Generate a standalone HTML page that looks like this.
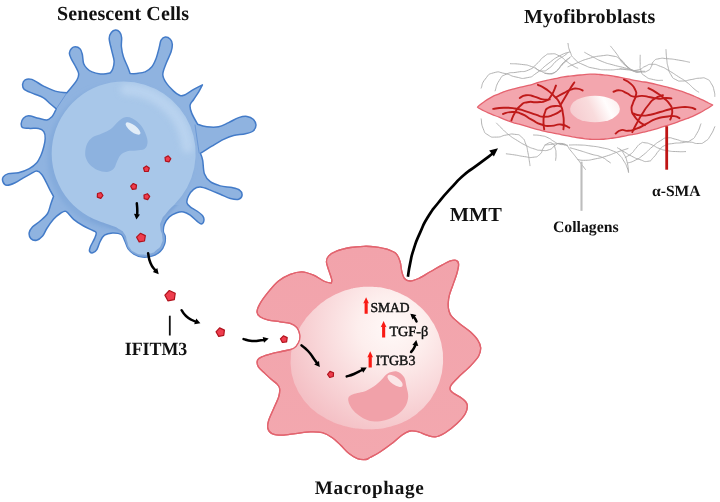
<!DOCTYPE html>
<html lang="en"><head><meta charset="utf-8"><title>Senescent cells, macrophage and myofibroblasts</title>
<style>html,body{margin:0;padding:0;background:#fff;width:720px;height:502px;overflow:hidden}svg{display:block}</style>
</head><body>
<svg width="720" height="502" viewBox="0 0 720 502">
<rect width="720" height="502" fill="#fff"/>
<defs>
<radialGradient id="gb" cx="0.70" cy="0.22" r="0.55"><stop offset="0" stop-color="#bdd6ef"/><stop offset="1" stop-color="#a8c7e8"/></radialGradient>
<radialGradient id="gm" gradientUnits="userSpaceOnUse" cx="392" cy="328" r="112"><stop offset="0" stop-color="#fff9f8"/><stop offset="0.3" stop-color="#fdeeed"/><stop offset="0.62" stop-color="#f9d9db"/><stop offset="1" stop-color="#f4c0c5"/></radialGradient>
<linearGradient id="gn" gradientUnits="userSpaceOnUse" x1="574" y1="120" x2="620" y2="98"><stop offset="0" stop-color="#f6cbcf"/><stop offset="0.4" stop-color="#f9dcdd"/><stop offset="0.7" stop-color="#fffdfd"/><stop offset="1" stop-color="#fcecec"/></linearGradient>
<linearGradient id="gf" x1="0" y1="0" x2="0" y2="1"><stop offset="0" stop-color="#f2a3ab"/><stop offset="1" stop-color="#f3a8af"/></linearGradient>
<filter id="bl2" x="-20%" y="-20%" width="140%" height="140%"><feGaussianBlur stdDeviation="2"/></filter>
<filter id="bl3" x="-30%" y="-30%" width="160%" height="160%"><feGaussianBlur stdDeviation="3"/></filter>
<filter id="bl1" x="-20%" y="-20%" width="140%" height="140%"><feGaussianBlur stdDeviation="1.2"/></filter>
<clipPath id="clow"><rect x="90" y="205" width="100" height="60"/></clipPath>
</defs>
<path d="M100.4,73.9C102.9,74.2 105.4,73.7 107.1,73.5C108.8,73.3 110.4,72.7 110.4,72.7C110.4,72.7 112.3,70.5 112.9,68.5C113.5,66.5 114.3,64.1 114.1,61C113.9,57.9 112.4,53.9 111.6,50.1C110.8,46.3 109.2,41.3 109.2,38.4C109.2,35.5 110.2,33.9 111.3,32.5C112.3,31.1 114.1,30.1 115.5,30C116.9,29.9 118.6,30.8 119.6,32C120.6,33.2 121.3,35 121.6,37.5C121.9,40 121.1,43.6 121.4,46.8C121.7,50 122.4,53.5 123.4,56.8C124.4,60.1 126.5,64 127.6,66.8C128.7,69.6 130.1,73.5 130.1,73.5C130.1,73.5 134.3,73.8 136.8,73.5C139.3,73.2 142.7,73 145.2,71.9C147.7,70.8 150.1,69 151.9,66.8C153.7,64.6 154.8,61.8 156.1,58.5C157.3,55.2 158.6,49.9 159.4,46.8C160.2,43.7 160.1,41.7 161.1,40.1C162.1,38.5 163.8,37.2 165.3,37.1C166.8,37 169.1,38 170.3,39.2C171.5,40.4 172.2,42.1 172.3,44.2C172.4,46.3 172.1,48.6 171.1,51.8C170.1,55 167.5,59.7 166.1,63.5C164.7,67.3 162.8,71.2 162.8,74.4C162.8,77.6 164.3,79.9 166.1,82.7C167.9,85.5 171.4,89 173.6,91.1C175.8,93.2 177.8,94.6 179.5,95.3C181.2,96 181.3,96.3 183.7,95.3C186.1,94.3 190.6,91.1 193.7,89.4C196.8,87.7 202.4,84.9 202.4,84.9C202.4,84.9 200.1,89.5 198.7,91.9C197.2,94.3 195.1,97.3 193.7,99.5C192.3,101.7 190.4,102.8 190.1,105.1C189.8,107.4 190.5,110.2 191.8,113.4C193.1,116.6 197.7,124.3 197.7,124.3C197.7,124.3 203.4,126.4 206.9,126.8C210.4,127.2 215,127.5 218.6,126.8C222.2,126.1 225.2,124.1 228.6,122.6C231.9,121.1 235.6,118.6 238.7,117.6C241.8,116.6 244.6,116.1 247,116.4C249.4,116.7 251.7,117.8 253.2,119.3C254.7,120.8 256,123.1 256,125.1C256,127 255,129.6 253.2,131C251.4,132.4 248.7,133.1 245.4,133.8C242.1,134.6 237.2,134.6 233.6,135.5C230,136.4 227.2,137.6 223.6,139.4C220,141.2 215.8,143.8 211.9,146.1C208,148.4 200.4,153.3 200.4,153.3C200.4,153.3 202,156.9 202.7,160.3C203.4,163.7 203.1,170.1 204.4,173.7C205.7,177.3 207.7,179.7 210.3,181.7C213,183.7 216.7,184.9 220.3,185.9C223.9,186.9 228.9,186.9 232.1,187.6C235.3,188.3 237.9,188.8 239.6,190.1C241.3,191.3 242.2,193.6 242.1,195.1C241.9,196.6 240.6,198.7 238.7,199.3C236.8,199.9 233.5,199.3 230.4,198.5C227.3,197.7 223.7,195.7 220.3,194.3C217,192.9 213.6,191.3 210.3,190.1C207,188.9 203.1,187.2 200.3,187.1C197.5,187 195.6,187.8 193.6,189.3C191.6,190.8 189.6,193.8 188.5,196C187.4,198.2 186.6,200.9 186.9,202.7C187.2,204.5 188.5,205.4 190.2,206.8C191.9,208.2 194.8,209.5 196.9,211C199,212.5 201.7,214.3 202.8,216C204,217.7 204.1,219.8 203.8,221.1C203.5,222.4 202.2,223.9 201.1,223.9C199.9,223.9 198.7,222.6 196.9,221.1C195.1,219.6 192.4,216.7 190.2,215.2C188,213.7 185.7,212.3 183.5,211.9C181.3,211.5 179.2,211.9 176.8,212.7C174.4,213.5 171.4,214.9 169.3,216.9C167.2,218.9 165.3,221.9 164.3,224.4C163.3,226.9 163.2,229.9 163.4,231.9C163.6,233.9 165,234.4 165.2,236.4C165.4,238.4 165.4,241.4 164.6,243.9C163.8,246.4 162.2,249.4 160.2,251.4C158.2,253.4 155.6,254.9 152.7,255.8C149.8,256.8 145.8,257.4 142.7,257.1C139.6,256.8 136.3,255.4 133.9,254C131.5,252.6 129.7,251 128.2,248.9C126.7,246.8 126.2,243.8 125.1,241.4C123.9,239 123.4,235.9 121.3,234.5C119.2,233.1 115.3,232.8 112.5,232.9C109.7,233 106.5,233.8 104.5,235.2C102.5,236.6 101.5,238.7 100.3,241.1C99,243.5 98.2,247.4 97,249.4C95.8,251.4 94,252.5 92.8,252.8C91.5,253.1 89.9,252.1 89.5,251.1C89.1,250.1 89.5,249 90.3,246.9C91.1,244.8 93.5,241 94.5,238.6C95.5,236.2 96.6,234.1 96.2,232.7C95.8,231.3 94.1,231.3 92,230.2C89.9,229.1 86.7,227.8 83.6,226C80.5,224.2 76.5,221.7 73.6,219.3C70.7,216.9 68.2,212.4 66,211.4C63.8,210.4 62.3,212.2 60.2,213.5C58.1,214.8 55.7,216.8 53.5,219.3C51.3,221.8 48.6,225.7 46.8,228.5C45,231.3 44.3,234.1 42.6,236C40.9,237.9 38.7,239.8 36.7,240.2C34.8,240.6 32.1,239.8 30.9,238.6C29.6,237.3 28.9,234.7 29.2,232.7C29.5,230.7 30.8,228.8 32.6,226.8C34.4,224.9 37.6,223.2 40.1,221C42.6,218.8 45.8,216.4 47.6,213.5C49.4,210.6 50,206.2 51,203.4C52,200.6 53.5,196.4 53.5,196.4C53.5,196.4 51.5,192.7 50.2,190.3C49,187.9 47.4,184.6 46,181.9C44.6,179.2 43.3,176.2 41.8,174.4C40.3,172.6 38.6,171.2 36.8,171.1C35,171 33.2,172.5 31,173.6C28.8,174.7 26,176.3 23.4,177.8C20.8,179.3 17.9,181.6 15.1,182.8C12.3,184.1 8.7,185.5 6.7,185.3C4.7,185.2 3.6,183.3 3,181.9C2.4,180.5 2.4,178.3 3.3,176.9C4.2,175.5 5.9,174.3 8.4,173.6C10.9,172.9 14.9,173.5 18.4,172.7C21.9,171.9 26.2,170.3 29.3,168.6C32.4,166.9 34.8,164.9 36.8,162.7C38.8,160.5 39.8,157.8 41,155.2C42.2,152.5 43.1,149.6 43.8,146.8C44.5,144 45.2,140.9 45.2,138.4C45.2,135.9 44.9,133.4 43.8,131.7C42.7,130 40.8,128.9 38.5,128.4C36.2,127.9 32.8,128.5 30.1,128.4C27.5,128.3 24.1,128.4 22.6,127.6C21.1,126.8 21.1,125 21.2,123.5C21.3,122 22.2,119.6 23.4,118.3C24.6,117 26,115.8 28.5,115.8C31,115.8 35.4,117.6 38.5,118.3C41.6,119 44.7,120.3 46.9,120C49.1,119.7 50.6,118 51.9,116.7C53.2,115.5 53.8,113.8 54.5,112.5C55.2,111.2 56.3,108.8 56.3,108.8C56.3,108.8 52.3,105.5 50.2,103.7C48.1,101.9 46.3,99.5 43.5,97.8C40.7,96.1 36.6,95 33.4,93.6C30.2,92.2 26,90.9 24.2,89.4C22.4,87.9 22.5,86 22.6,84.4C22.8,82.8 23.6,80.6 25.1,79.8C26.6,79 28.7,78.4 31.8,79.4C34.9,80.5 39.6,84.1 43.5,86.1C47.4,88 51.3,90 55.2,91.1C59.1,92.2 66.9,92.8 66.9,92.8C66.9,92.8 75,83.4 76.9,80.2C78.9,77 78.9,75.9 78.6,73.5C78.3,71.1 76.5,68.5 75.3,66C74,63.5 72.1,60.7 71.1,58.5C70.1,56.3 69.3,54.7 69.4,53C69.5,51.3 70.5,49.5 71.5,48.5C72.5,47.5 73.9,46.8 75.3,46.8C76.7,46.8 78.8,47.5 80,48.8C81.2,50 81.7,51.8 82.3,54.3C82.9,56.8 82.8,61.1 83.6,63.5C84.4,65.9 85.6,67.1 87,68.5C88.4,69.9 89.8,71 92,71.9C94.2,72.8 97.9,73.6 100.4,73.9Z" fill="#8fb3e0" stroke="#437bc8" stroke-width="1.5" stroke-linejoin="round"/>
<path d="M56.3,108.75 L66.9,92.8 M195,124.6 C196.5,135 197.8,144 199.2,153.2" fill="none" stroke="#4a80cb" stroke-width="1" opacity="0.55"/>
<clipPath id="co"><path d="M100.4,73.9C102.9,74.2 105.4,73.7 107.1,73.5C108.8,73.3 110.4,72.7 110.4,72.7C110.4,72.7 112.3,70.5 112.9,68.5C113.5,66.5 114.3,64.1 114.1,61C113.9,57.9 112.4,53.9 111.6,50.1C110.8,46.3 109.2,41.3 109.2,38.4C109.2,35.5 110.2,33.9 111.3,32.5C112.3,31.1 114.1,30.1 115.5,30C116.9,29.9 118.6,30.8 119.6,32C120.6,33.2 121.3,35 121.6,37.5C121.9,40 121.1,43.6 121.4,46.8C121.7,50 122.4,53.5 123.4,56.8C124.4,60.1 126.5,64 127.6,66.8C128.7,69.6 130.1,73.5 130.1,73.5C130.1,73.5 134.3,73.8 136.8,73.5C139.3,73.2 142.7,73 145.2,71.9C147.7,70.8 150.1,69 151.9,66.8C153.7,64.6 154.8,61.8 156.1,58.5C157.3,55.2 158.6,49.9 159.4,46.8C160.2,43.7 160.1,41.7 161.1,40.1C162.1,38.5 163.8,37.2 165.3,37.1C166.8,37 169.1,38 170.3,39.2C171.5,40.4 172.2,42.1 172.3,44.2C172.4,46.3 172.1,48.6 171.1,51.8C170.1,55 167.5,59.7 166.1,63.5C164.7,67.3 162.8,71.2 162.8,74.4C162.8,77.6 164.3,79.9 166.1,82.7C167.9,85.5 171.4,89 173.6,91.1C175.8,93.2 177.8,94.6 179.5,95.3C181.2,96 181.3,96.3 183.7,95.3C186.1,94.3 190.6,91.1 193.7,89.4C196.8,87.7 202.4,84.9 202.4,84.9C202.4,84.9 200.1,89.5 198.7,91.9C197.2,94.3 195.1,97.3 193.7,99.5C192.3,101.7 190.4,102.8 190.1,105.1C189.8,107.4 190.5,110.2 191.8,113.4C193.1,116.6 197.7,124.3 197.7,124.3C197.7,124.3 203.4,126.4 206.9,126.8C210.4,127.2 215,127.5 218.6,126.8C222.2,126.1 225.2,124.1 228.6,122.6C231.9,121.1 235.6,118.6 238.7,117.6C241.8,116.6 244.6,116.1 247,116.4C249.4,116.7 251.7,117.8 253.2,119.3C254.7,120.8 256,123.1 256,125.1C256,127 255,129.6 253.2,131C251.4,132.4 248.7,133.1 245.4,133.8C242.1,134.6 237.2,134.6 233.6,135.5C230,136.4 227.2,137.6 223.6,139.4C220,141.2 215.8,143.8 211.9,146.1C208,148.4 200.4,153.3 200.4,153.3C200.4,153.3 202,156.9 202.7,160.3C203.4,163.7 203.1,170.1 204.4,173.7C205.7,177.3 207.7,179.7 210.3,181.7C213,183.7 216.7,184.9 220.3,185.9C223.9,186.9 228.9,186.9 232.1,187.6C235.3,188.3 237.9,188.8 239.6,190.1C241.3,191.3 242.2,193.6 242.1,195.1C241.9,196.6 240.6,198.7 238.7,199.3C236.8,199.9 233.5,199.3 230.4,198.5C227.3,197.7 223.7,195.7 220.3,194.3C217,192.9 213.6,191.3 210.3,190.1C207,188.9 203.1,187.2 200.3,187.1C197.5,187 195.6,187.8 193.6,189.3C191.6,190.8 189.6,193.8 188.5,196C187.4,198.2 186.6,200.9 186.9,202.7C187.2,204.5 188.5,205.4 190.2,206.8C191.9,208.2 194.8,209.5 196.9,211C199,212.5 201.7,214.3 202.8,216C204,217.7 204.1,219.8 203.8,221.1C203.5,222.4 202.2,223.9 201.1,223.9C199.9,223.9 198.7,222.6 196.9,221.1C195.1,219.6 192.4,216.7 190.2,215.2C188,213.7 185.7,212.3 183.5,211.9C181.3,211.5 179.2,211.9 176.8,212.7C174.4,213.5 171.4,214.9 169.3,216.9C167.2,218.9 165.3,221.9 164.3,224.4C163.3,226.9 163.2,229.9 163.4,231.9C163.6,233.9 165,234.4 165.2,236.4C165.4,238.4 165.4,241.4 164.6,243.9C163.8,246.4 162.2,249.4 160.2,251.4C158.2,253.4 155.6,254.9 152.7,255.8C149.8,256.8 145.8,257.4 142.7,257.1C139.6,256.8 136.3,255.4 133.9,254C131.5,252.6 129.7,251 128.2,248.9C126.7,246.8 126.2,243.8 125.1,241.4C123.9,239 123.4,235.9 121.3,234.5C119.2,233.1 115.3,232.8 112.5,232.9C109.7,233 106.5,233.8 104.5,235.2C102.5,236.6 101.5,238.7 100.3,241.1C99,243.5 98.2,247.4 97,249.4C95.8,251.4 94,252.5 92.8,252.8C91.5,253.1 89.9,252.1 89.5,251.1C89.1,250.1 89.5,249 90.3,246.9C91.1,244.8 93.5,241 94.5,238.6C95.5,236.2 96.6,234.1 96.2,232.7C95.8,231.3 94.1,231.3 92,230.2C89.9,229.1 86.7,227.8 83.6,226C80.5,224.2 76.5,221.7 73.6,219.3C70.7,216.9 68.2,212.4 66,211.4C63.8,210.4 62.3,212.2 60.2,213.5C58.1,214.8 55.7,216.8 53.5,219.3C51.3,221.8 48.6,225.7 46.8,228.5C45,231.3 44.3,234.1 42.6,236C40.9,237.9 38.7,239.8 36.7,240.2C34.8,240.6 32.1,239.8 30.9,238.6C29.6,237.3 28.9,234.7 29.2,232.7C29.5,230.7 30.8,228.8 32.6,226.8C34.4,224.9 37.6,223.2 40.1,221C42.6,218.8 45.8,216.4 47.6,213.5C49.4,210.6 50,206.2 51,203.4C52,200.6 53.5,196.4 53.5,196.4C53.5,196.4 51.5,192.7 50.2,190.3C49,187.9 47.4,184.6 46,181.9C44.6,179.2 43.3,176.2 41.8,174.4C40.3,172.6 38.6,171.2 36.8,171.1C35,171 33.2,172.5 31,173.6C28.8,174.7 26,176.3 23.4,177.8C20.8,179.3 17.9,181.6 15.1,182.8C12.3,184.1 8.7,185.5 6.7,185.3C4.7,185.2 3.6,183.3 3,181.9C2.4,180.5 2.4,178.3 3.3,176.9C4.2,175.5 5.9,174.3 8.4,173.6C10.9,172.9 14.9,173.5 18.4,172.7C21.9,171.9 26.2,170.3 29.3,168.6C32.4,166.9 34.8,164.9 36.8,162.7C38.8,160.5 39.8,157.8 41,155.2C42.2,152.5 43.1,149.6 43.8,146.8C44.5,144 45.2,140.9 45.2,138.4C45.2,135.9 44.9,133.4 43.8,131.7C42.7,130 40.8,128.9 38.5,128.4C36.2,127.9 32.8,128.5 30.1,128.4C27.5,128.3 24.1,128.4 22.6,127.6C21.1,126.8 21.1,125 21.2,123.5C21.3,122 22.2,119.6 23.4,118.3C24.6,117 26,115.8 28.5,115.8C31,115.8 35.4,117.6 38.5,118.3C41.6,119 44.7,120.3 46.9,120C49.1,119.7 50.6,118 51.9,116.7C53.2,115.5 53.8,113.8 54.5,112.5C55.2,111.2 56.3,108.8 56.3,108.8C56.3,108.8 52.3,105.5 50.2,103.7C48.1,101.9 46.3,99.5 43.5,97.8C40.7,96.1 36.6,95 33.4,93.6C30.2,92.2 26,90.9 24.2,89.4C22.4,87.9 22.5,86 22.6,84.4C22.8,82.8 23.6,80.6 25.1,79.8C26.6,79 28.7,78.4 31.8,79.4C34.9,80.5 39.6,84.1 43.5,86.1C47.4,88 51.3,90 55.2,91.1C59.1,92.2 66.9,92.8 66.9,92.8C66.9,92.8 75,83.4 76.9,80.2C78.9,77 78.9,75.9 78.6,73.5C78.3,71.1 76.5,68.5 75.3,66C74,63.5 72.1,60.7 71.1,58.5C70.1,56.3 69.3,54.7 69.4,53C69.5,51.3 70.5,49.5 71.5,48.5C72.5,47.5 73.9,46.8 75.3,46.8C76.7,46.8 78.8,47.5 80,48.8C81.2,50 81.7,51.8 82.3,54.3C82.9,56.8 82.8,61.1 83.6,63.5C84.4,65.9 85.6,67.1 87,68.5C88.4,69.9 89.8,71 92,71.9C94.2,72.8 97.9,73.6 100.4,73.9Z"/></clipPath>
<g clip-path="url(#co)"><circle cx="120.3" cy="157" r="73" fill="#84abdc" filter="url(#bl2)"/><g clip-path="url(#clow)"><path d="M123.8,81.5 A72,72 0 0 1 174.5,204.5 C171.8,207.3 170.8,207.7 166.5,213C162.2,218.3 163.5,215.5 161.5,220.5C159.5,225.5 160.1,222.7 160.4,228C160.7,233.3 162,231.1 162.3,236.4C162.6,241.7 163.3,239.4 161.4,243.9C159.5,248.4 160.2,246.8 156.5,250C152.8,253.2 154.8,252.1 150.2,253.6C145.6,255.1 147.7,255 142.7,254.6C137.7,254.2 139.4,254.8 135.1,252.5C130.8,250.2 132.3,251.4 129.7,247.7C127.1,244 128.9,246 127.2,241.4C125.5,236.8 127.3,238.1 124.5,233.9C121.7,229.7 123.6,231.8 118.8,228.9C114,226 116.3,227.6 110,225.1C103.7,222.6 103.3,222.7 100,221.5 A72,72 0 0 1 123.8,81.5Z" fill="none" stroke="#7fa6d9" stroke-width="5" filter="url(#bl1)"/></g></g>
<path d="M123.8,81.5 A72,72 0 0 1 174.5,204.5 C171.8,207.3 170.8,207.7 166.5,213C162.2,218.3 163.5,215.5 161.5,220.5C159.5,225.5 160.1,222.7 160.4,228C160.7,233.3 162,231.1 162.3,236.4C162.6,241.7 163.3,239.4 161.4,243.9C159.5,248.4 160.2,246.8 156.5,250C152.8,253.2 154.8,252.1 150.2,253.6C145.6,255.1 147.7,255 142.7,254.6C137.7,254.2 139.4,254.8 135.1,252.5C130.8,250.2 132.3,251.4 129.7,247.7C127.1,244 128.9,246 127.2,241.4C125.5,236.8 127.3,238.1 124.5,233.9C121.7,229.7 123.6,231.8 118.8,228.9C114,226 116.3,227.6 110,225.1C103.7,222.6 103.3,222.7 100,221.5 A72,72 0 0 1 123.8,81.5Z" fill="#a8c7e9"/>
<clipPath id="cb"><path d="M123.8,81.5 A72,72 0 0 1 174.5,204.5 C171.8,207.3 170.8,207.7 166.5,213C162.2,218.3 163.5,215.5 161.5,220.5C159.5,225.5 160.1,222.7 160.4,228C160.7,233.3 162,231.1 162.3,236.4C162.6,241.7 163.3,239.4 161.4,243.9C159.5,248.4 160.2,246.8 156.5,250C152.8,253.2 154.8,252.1 150.2,253.6C145.6,255.1 147.7,255 142.7,254.6C137.7,254.2 139.4,254.8 135.1,252.5C130.8,250.2 132.3,251.4 129.7,247.7C127.1,244 128.9,246 127.2,241.4C125.5,236.8 127.3,238.1 124.5,233.9C121.7,229.7 123.6,231.8 118.8,228.9C114,226 116.3,227.6 110,225.1C103.7,222.6 103.3,222.7 100,221.5 A72,72 0 0 1 123.8,81.5Z"/></clipPath>
<g clip-path="url(#cb)"><path d="M126.1,89.5 A64,64 0 0 1 187.5,147" fill="none" stroke="#bfd7f1" stroke-width="12" opacity="0.75" stroke-linecap="round" filter="url(#bl3)"/></g>
<path d="M85.2,152.8C85.3,150.3 85.7,146.5 87,143.9C88.3,141.3 90.4,138.8 92.9,137.1C95.4,135.3 98.9,134.8 101.9,133.4C104.9,132 108.2,130.9 110.9,128.9C113.6,126.9 115.9,123.3 118.3,121.4C120.7,119.5 122.7,117.8 125.1,117.3C127.5,116.8 129.9,117.2 132.5,118.5C135.1,119.8 138.6,122.5 140.8,125.2C143.1,127.9 144.9,131.9 146,134.9C147.1,137.9 147.8,140.7 147.5,143.1C147.2,145.5 146.4,147.8 144.5,149.1C142.6,150.3 139.2,150.2 136.3,150.6C133.4,151 129.9,150.6 127.3,151.3C124.7,152.1 122.3,153.3 120.6,155.1C118.9,156.8 118,159.6 116.9,161.8C115.8,164 115.5,166.8 113.9,168.5C112.3,170.2 109.8,171.8 107.1,172C104.3,172.2 100.3,171.2 97.4,170C94.5,168.8 91.8,166.7 89.9,164.8C88,162.9 87,160.8 86.2,158.8C85.4,156.8 85.1,155.3 85.2,152.8Z" fill="#8db2df"/>
<ellipse cx="133" cy="128.5" rx="9" ry="3.4" transform="rotate(38 133 128.5)" fill="#e2edf8"/>
<path d="M299.9,335.1C299.6,332.6 298.5,329.6 296.9,327.6C295.3,325.7 293,324.4 290.2,323.4C287.4,322.4 283.7,322.4 280.1,321.8C276.5,321.2 271.8,321 268.4,320.1C265,319.2 261.9,318.1 260,316.7C258.1,315.3 257,314.2 257,312C257,309.8 258.1,307 260,303.6C261.9,300.2 265.3,295.7 268.4,291.9C271.5,288.1 274.9,283.9 278.5,281C282.1,278.1 286.3,275.8 290.2,274.3C294.1,272.8 298,271.7 301.9,271.8C305.8,271.9 310,273.6 313.6,275.1C317.2,276.6 320.7,279.6 323.6,281C326.5,282.4 331.2,283.2 331.2,283.2C331.2,283.2 332.1,281.5 331.7,279.3C331.3,277.1 329.6,273 328.7,270.1C327.8,267.2 326.4,264.1 326.4,261.7C326.4,259.3 326.9,257.7 328.7,255.9C330.5,254.1 333.4,252.3 337,250.9C340.6,249.5 345.9,248.3 350.4,247.5C354.9,246.7 359.7,246.4 363.8,246.3C367.9,246.2 371.1,246.3 375,246.8C378.9,247.3 383.5,248 387,249.2C390.5,250.4 394,251.7 396.2,253.8C398.4,255.9 399.3,259.1 400.2,262C401.1,264.9 401,268.2 401.7,271C402.4,273.8 403.1,276.8 404.5,278.5C405.9,280.2 407.8,281 410.1,281C412.4,281 415.1,280 418.5,278.5C421.9,277 426.3,274 430.2,271.8C434.1,269.6 438.5,266.9 441.9,265.1C445.2,263.3 447.9,261.7 450.3,260.9C452.7,260.1 454.7,259.8 456.1,260.4C457.5,260.9 458.5,262 458.6,264.2C458.7,266.4 457.9,270 456.9,273.5C455.9,277 454.1,281.6 452.8,285.2C451.6,288.8 450.2,292.1 449.4,295.2C448.6,298.3 448.3,301 448.2,303.6C448.1,306.2 448.4,308.8 449,311C449.6,313.2 450,314.5 451.9,316.7C453.8,318.9 457.2,321.7 460.3,324.2C463.4,326.7 467.4,329.1 470.3,331.8C473.2,334.5 476.1,337.5 477.8,340.1C479.5,342.8 480.6,345.1 480.7,347.7C480.8,350.3 480.4,352.9 478.7,356C477,359.1 473.6,362.6 470.3,366.1C467,369.6 461.8,373.8 458.6,377C455.4,380.2 452.4,383.1 451,385.3C449.6,387.5 449.9,388.6 450.3,390C450.8,391.4 451.7,392 453.7,393.4C455.7,394.8 459.9,396.6 462.1,398.4C464.3,400.2 466.6,401.8 467.1,404.3C467.7,406.8 467.1,410.3 465.4,413.5C463.7,416.7 460.4,420.3 457,423.5C453.6,426.7 448.9,430.5 445.3,432.7C441.7,434.9 438.4,436.5 435.3,436.9C432.2,437.3 429.7,436 426.9,435.2C424.1,434.4 421.3,432.6 418.5,431.9C415.7,431.2 413,430.4 410.2,431C407.4,431.6 404.9,433.1 401.8,435.2C398.7,437.3 395.4,440.8 391.8,443.6C388.2,446.4 383.6,449.7 380,452C376.4,454.3 372.4,456.2 370,457.5C367.6,458.8 367.9,459.3 365.8,459.5C363.7,459.7 360.2,459.7 357.4,458.7C354.6,457.7 351.8,455.8 349,453.6C346.2,451.4 343.5,448 340.7,445.3C337.9,442.6 335.4,439.8 332.3,437.7C329.2,435.6 325.9,433.7 322.3,432.7C318.7,431.7 315,431.8 310.5,431.9C306,432 300.2,433.1 295.5,433.6C290.8,434.2 286,435.2 282.1,435.2C278.2,435.2 274.4,434.7 272,433.6C269.6,432.5 268.4,430.7 267.9,428.5C267.3,426.3 267.7,423.5 268.7,420.2C269.7,416.9 272,412.4 273.7,408.5C275.4,404.6 277.7,400 278.7,396.7C279.7,393.4 279.9,390.6 279.6,388.5C279.3,386.4 278.4,385.5 277,384C275.6,382.5 273.5,381.2 271.5,379.5C269.5,377.8 267.3,375.7 265.1,373.6C262.9,371.5 259.7,369.1 258.4,366.9C257.1,364.7 256.9,362 257.5,360.3C258.1,358.6 259.3,358 261.7,356.9C264.1,355.8 268.2,354.6 271.8,353.6C275.4,352.6 279.9,351.9 283.5,351C287.1,350.1 291,349.9 293.5,348.5C296,347.1 297.4,344.9 298.5,342.7C299.6,340.5 300.2,337.6 299.9,335.1Z" fill="url(#gf)" stroke="#e2646f" stroke-width="1.3" stroke-linejoin="round"/>
<clipPath id="cm"><path d="M299.9,335.1C299.6,332.6 298.5,329.6 296.9,327.6C295.3,325.7 293,324.4 290.2,323.4C287.4,322.4 283.7,322.4 280.1,321.8C276.5,321.2 271.8,321 268.4,320.1C265,319.2 261.9,318.1 260,316.7C258.1,315.3 257,314.2 257,312C257,309.8 258.1,307 260,303.6C261.9,300.2 265.3,295.7 268.4,291.9C271.5,288.1 274.9,283.9 278.5,281C282.1,278.1 286.3,275.8 290.2,274.3C294.1,272.8 298,271.7 301.9,271.8C305.8,271.9 310,273.6 313.6,275.1C317.2,276.6 320.7,279.6 323.6,281C326.5,282.4 331.2,283.2 331.2,283.2C331.2,283.2 332.1,281.5 331.7,279.3C331.3,277.1 329.6,273 328.7,270.1C327.8,267.2 326.4,264.1 326.4,261.7C326.4,259.3 326.9,257.7 328.7,255.9C330.5,254.1 333.4,252.3 337,250.9C340.6,249.5 345.9,248.3 350.4,247.5C354.9,246.7 359.7,246.4 363.8,246.3C367.9,246.2 371.1,246.3 375,246.8C378.9,247.3 383.5,248 387,249.2C390.5,250.4 394,251.7 396.2,253.8C398.4,255.9 399.3,259.1 400.2,262C401.1,264.9 401,268.2 401.7,271C402.4,273.8 403.1,276.8 404.5,278.5C405.9,280.2 407.8,281 410.1,281C412.4,281 415.1,280 418.5,278.5C421.9,277 426.3,274 430.2,271.8C434.1,269.6 438.5,266.9 441.9,265.1C445.2,263.3 447.9,261.7 450.3,260.9C452.7,260.1 454.7,259.8 456.1,260.4C457.5,260.9 458.5,262 458.6,264.2C458.7,266.4 457.9,270 456.9,273.5C455.9,277 454.1,281.6 452.8,285.2C451.6,288.8 450.2,292.1 449.4,295.2C448.6,298.3 448.3,301 448.2,303.6C448.1,306.2 448.4,308.8 449,311C449.6,313.2 450,314.5 451.9,316.7C453.8,318.9 457.2,321.7 460.3,324.2C463.4,326.7 467.4,329.1 470.3,331.8C473.2,334.5 476.1,337.5 477.8,340.1C479.5,342.8 480.6,345.1 480.7,347.7C480.8,350.3 480.4,352.9 478.7,356C477,359.1 473.6,362.6 470.3,366.1C467,369.6 461.8,373.8 458.6,377C455.4,380.2 452.4,383.1 451,385.3C449.6,387.5 449.9,388.6 450.3,390C450.8,391.4 451.7,392 453.7,393.4C455.7,394.8 459.9,396.6 462.1,398.4C464.3,400.2 466.6,401.8 467.1,404.3C467.7,406.8 467.1,410.3 465.4,413.5C463.7,416.7 460.4,420.3 457,423.5C453.6,426.7 448.9,430.5 445.3,432.7C441.7,434.9 438.4,436.5 435.3,436.9C432.2,437.3 429.7,436 426.9,435.2C424.1,434.4 421.3,432.6 418.5,431.9C415.7,431.2 413,430.4 410.2,431C407.4,431.6 404.9,433.1 401.8,435.2C398.7,437.3 395.4,440.8 391.8,443.6C388.2,446.4 383.6,449.7 380,452C376.4,454.3 372.4,456.2 370,457.5C367.6,458.8 367.9,459.3 365.8,459.5C363.7,459.7 360.2,459.7 357.4,458.7C354.6,457.7 351.8,455.8 349,453.6C346.2,451.4 343.5,448 340.7,445.3C337.9,442.6 335.4,439.8 332.3,437.7C329.2,435.6 325.9,433.7 322.3,432.7C318.7,431.7 315,431.8 310.5,431.9C306,432 300.2,433.1 295.5,433.6C290.8,434.2 286,435.2 282.1,435.2C278.2,435.2 274.4,434.7 272,433.6C269.6,432.5 268.4,430.7 267.9,428.5C267.3,426.3 267.7,423.5 268.7,420.2C269.7,416.9 272,412.4 273.7,408.5C275.4,404.6 277.7,400 278.7,396.7C279.7,393.4 279.9,390.6 279.6,388.5C279.3,386.4 278.4,385.5 277,384C275.6,382.5 273.5,381.2 271.5,379.5C269.5,377.8 267.3,375.7 265.1,373.6C262.9,371.5 259.7,369.1 258.4,366.9C257.1,364.7 256.9,362 257.5,360.3C258.1,358.6 259.3,358 261.7,356.9C264.1,355.8 268.2,354.6 271.8,353.6C275.4,352.6 279.9,351.9 283.5,351C287.1,350.1 291,349.9 293.5,348.5C296,347.1 297.4,344.9 298.5,342.7C299.6,340.5 300.2,337.6 299.9,335.1Z"/></clipPath>
<g clip-path="url(#cm)"><path d="M443,358C443.1,364.6 443.3,361.4 442.5,367.9C441.7,374.5 442.3,371.3 440.6,377.7C438.8,384.1 439.9,381 437.3,387.1C434.6,393.2 436.1,390.3 432.6,395.9C429.2,401.5 431,398.9 426.8,403.9C422.6,408.9 424.8,406.6 419.9,410.9C415.1,415.3 417.6,413.3 412.2,416.9C406.8,420.5 409.5,418.9 403.8,421.7C398,424.5 400.9,423.3 394.9,425.3C388.8,427.3 391.8,426.4 385.7,427.7C379.5,428.9 382.6,428.5 376.3,429C370.1,429.5 373.2,429.4 367,429.3C360.8,429.2 363.9,429.4 357.7,428.6C351.5,427.9 354.6,428.4 348.5,427C342.4,425.6 345.4,426.5 339.5,424.5C333.5,422.4 336.4,423.6 330.7,420.9C324.9,418.2 327.7,419.8 322.2,416.3C316.8,412.9 319.3,414.8 314.3,410.7C309.3,406.5 311.6,408.8 307.2,403.9C302.8,399 304.8,401.6 301.1,396C297.5,390.5 299,393.4 296.3,387.3C293.5,381.2 294.6,384.3 292.9,377.9C291.1,371.4 291.7,374.6 291,368C290.4,361.4 290.5,364.6 290.8,358C291.2,351.4 290.8,354.6 292.1,348.1C293.5,341.7 292.6,344.8 294.8,338.7C297,332.5 295.8,335.5 298.8,329.7C301.8,324 300.1,326.7 303.8,321.5C307.4,316.3 305.5,318.7 309.7,314C313.9,309.3 311.7,311.5 316.4,307.4C321,303.2 318.6,305.1 323.7,301.5C328.7,297.9 326.1,299.6 331.5,296.6C337,293.6 334.2,294.9 339.9,292.6C345.6,290.2 342.7,291.2 348.7,289.6C354.6,287.9 351.6,288.6 357.7,287.6C363.8,286.7 360.8,287 367,286.8C373.2,286.6 370.1,286.5 376.3,287.1C382.5,287.7 379.5,287.2 385.6,288.6C391.7,289.9 388.7,289.1 394.7,291.2C400.6,293.4 397.7,292.1 403.4,295C409,297.9 406.3,296.3 411.6,299.9C416.8,303.6 414.3,301.6 419.1,305.9C423.9,310.2 421.7,307.9 425.8,312.8C430,317.8 428.1,315.2 431.6,320.7C435.2,326.1 433.6,323.3 436.4,329.3C439.1,335.2 438,332.2 439.9,338.5C441.8,344.7 441.1,341.6 442.1,348.1C443.2,354.6 442.9,351.4 443,358Z" fill="url(#gm)"/></g>
<path d="M299.9,335.1C299.6,332.6 298.5,329.6 296.9,327.6C295.3,325.7 293,324.4 290.2,323.4C287.4,322.4 283.7,322.4 280.1,321.8C276.5,321.2 271.8,321 268.4,320.1C265,319.2 261.9,318.1 260,316.7C258.1,315.3 257,314.2 257,312C257,309.8 258.1,307 260,303.6C261.9,300.2 265.3,295.7 268.4,291.9C271.5,288.1 274.9,283.9 278.5,281C282.1,278.1 286.3,275.8 290.2,274.3C294.1,272.8 298,271.7 301.9,271.8C305.8,271.9 310,273.6 313.6,275.1C317.2,276.6 320.7,279.6 323.6,281C326.5,282.4 331.2,283.2 331.2,283.2C331.2,283.2 332.1,281.5 331.7,279.3C331.3,277.1 329.6,273 328.7,270.1C327.8,267.2 326.4,264.1 326.4,261.7C326.4,259.3 326.9,257.7 328.7,255.9C330.5,254.1 333.4,252.3 337,250.9C340.6,249.5 345.9,248.3 350.4,247.5C354.9,246.7 359.7,246.4 363.8,246.3C367.9,246.2 371.1,246.3 375,246.8C378.9,247.3 383.5,248 387,249.2C390.5,250.4 394,251.7 396.2,253.8C398.4,255.9 399.3,259.1 400.2,262C401.1,264.9 401,268.2 401.7,271C402.4,273.8 403.1,276.8 404.5,278.5C405.9,280.2 407.8,281 410.1,281C412.4,281 415.1,280 418.5,278.5C421.9,277 426.3,274 430.2,271.8C434.1,269.6 438.5,266.9 441.9,265.1C445.2,263.3 447.9,261.7 450.3,260.9C452.7,260.1 454.7,259.8 456.1,260.4C457.5,260.9 458.5,262 458.6,264.2C458.7,266.4 457.9,270 456.9,273.5C455.9,277 454.1,281.6 452.8,285.2C451.6,288.8 450.2,292.1 449.4,295.2C448.6,298.3 448.3,301 448.2,303.6C448.1,306.2 448.4,308.8 449,311C449.6,313.2 450,314.5 451.9,316.7C453.8,318.9 457.2,321.7 460.3,324.2C463.4,326.7 467.4,329.1 470.3,331.8C473.2,334.5 476.1,337.5 477.8,340.1C479.5,342.8 480.6,345.1 480.7,347.7C480.8,350.3 480.4,352.9 478.7,356C477,359.1 473.6,362.6 470.3,366.1C467,369.6 461.8,373.8 458.6,377C455.4,380.2 452.4,383.1 451,385.3C449.6,387.5 449.9,388.6 450.3,390C450.8,391.4 451.7,392 453.7,393.4C455.7,394.8 459.9,396.6 462.1,398.4C464.3,400.2 466.6,401.8 467.1,404.3C467.7,406.8 467.1,410.3 465.4,413.5C463.7,416.7 460.4,420.3 457,423.5C453.6,426.7 448.9,430.5 445.3,432.7C441.7,434.9 438.4,436.5 435.3,436.9C432.2,437.3 429.7,436 426.9,435.2C424.1,434.4 421.3,432.6 418.5,431.9C415.7,431.2 413,430.4 410.2,431C407.4,431.6 404.9,433.1 401.8,435.2C398.7,437.3 395.4,440.8 391.8,443.6C388.2,446.4 383.6,449.7 380,452C376.4,454.3 372.4,456.2 370,457.5C367.6,458.8 367.9,459.3 365.8,459.5C363.7,459.7 360.2,459.7 357.4,458.7C354.6,457.7 351.8,455.8 349,453.6C346.2,451.4 343.5,448 340.7,445.3C337.9,442.6 335.4,439.8 332.3,437.7C329.2,435.6 325.9,433.7 322.3,432.7C318.7,431.7 315,431.8 310.5,431.9C306,432 300.2,433.1 295.5,433.6C290.8,434.2 286,435.2 282.1,435.2C278.2,435.2 274.4,434.7 272,433.6C269.6,432.5 268.4,430.7 267.9,428.5C267.3,426.3 267.7,423.5 268.7,420.2C269.7,416.9 272,412.4 273.7,408.5C275.4,404.6 277.7,400 278.7,396.7C279.7,393.4 279.9,390.6 279.6,388.5C279.3,386.4 278.4,385.5 277,384C275.6,382.5 273.5,381.2 271.5,379.5C269.5,377.8 267.3,375.7 265.1,373.6C262.9,371.5 259.7,369.1 258.4,366.9C257.1,364.7 256.9,362 257.5,360.3C258.1,358.6 259.3,358 261.7,356.9C264.1,355.8 268.2,354.6 271.8,353.6C275.4,352.6 279.9,351.9 283.5,351C287.1,350.1 291,349.9 293.5,348.5C296,347.1 297.4,344.9 298.5,342.7C299.6,340.5 300.2,337.6 299.9,335.1Z" fill="none" stroke="#e2646f" stroke-width="1.3" stroke-linejoin="round"/>
<path d="M348.2,398.4C348.6,396.3 350.3,395.4 353.2,394.2C356.1,392.9 362,392.4 365.8,390.9C369.6,389.4 373.2,386.9 375.8,385C378.4,383.1 379.7,381.4 381.7,379.5C383.7,377.6 385.2,374.8 387.7,373.5C390.2,372.2 394.1,370.9 396.8,371.5C399.5,372.1 402.4,374.5 404,377C405.6,379.5 405.8,383.4 406.5,386.7C407.2,390 408.4,393.3 408.2,396.7C408,400.1 407,403.7 405.1,406.8C403.2,409.9 400.1,412.9 396.8,415.1C393.5,417.3 389.6,419.2 385.1,420.2C380.6,421.2 374.6,422 370,421C365.4,420 360.6,416.7 357.4,414.3C354.2,411.9 352.2,409.5 350.7,406.8C349.2,404.1 347.8,400.5 348.2,398.4Z" fill="#f1a1a9"/>
<ellipse cx="395.1" cy="380.9" rx="9" ry="3.8" transform="rotate(35 395.1 380.9)" fill="#fbe6e7"/>
<g fill="none" stroke="#a9a9a9" stroke-width="0.9" stroke-linecap="round">
<path d="M481.2,88.1C482.6,85.1 481.1,84.1 485.3,79C489.5,73.9 487.2,74.6 493.7,72.8C500.2,71 497.5,72.1 504.9,73.5C512.3,74.9 508.6,75.6 516,77C523.4,78.4 520.2,79.1 527.2,77.7C534.2,76.3 529.9,77.5 536.9,72.8C543.9,68.1 540.6,69.3 548.1,63.7C555.6,58.1 552.1,59.9 559.3,56C566.5,52.1 566.2,53.3 569.7,51.9"/>
<path d="M495.1,90.9C496.5,87.4 495.6,86 499.3,80.4C503,74.8 500.3,77 506.3,74.2C512.3,71.4 510,73.5 517.4,72.1C524.8,70.7 522.1,72.8 528.6,70C535.1,67.2 531.8,68.1 536.9,63.7C542,59.3 539.2,60 543.9,56.7C548.6,53.4 545.8,54.2 550.9,53.9C556,53.6 554.3,53.6 559.3,55.9C564.3,58.2 561.4,57.5 565.9,60.8C570.4,64.1 568.9,63.2 572.9,65.7C576.9,68.2 576.2,67.4 577.8,68.2"/>
<path d="M510.4,63.7C514.1,63.9 514.6,63.5 521.6,64.4C528.6,65.3 525.4,64.4 531.4,66.5C537.4,68.6 534.1,68.4 539.7,70.7C545.3,73 543,73 548.1,73.5C553.2,74 550.5,74.9 555.1,72.1C559.7,69.3 557,70 562,65.1C567,60.2 567.4,59.9 570.1,57.3"/>
<path d="M535.6,67.9C537.7,68.9 537.4,71 542,71C546.6,71 544.7,71.3 549.5,67.9C554.3,64.5 551.4,65.1 556.5,60.9C561.6,56.7 561,58.1 564.8,55.3C568.6,52.5 566.9,53.4 568,52.4"/>
<path d="M568,43.4C568.7,46.2 567.8,46.4 570.1,51.7C572.4,57 570.4,55 575,59.4C579.6,63.8 577.3,62 584,65C590.7,68 587.3,66.9 595.2,68.5C603.1,70.1 599.4,69.7 607.8,69.9C616.2,70.1 613.3,69.4 620.3,69.2C627.3,69 625.9,69.2 628.7,69.2"/>
<path d="M568,66.8C571,65.5 570.4,65.6 577.1,62.9C583.8,60.2 580.3,61 588.2,58.7C596.1,56.4 592.9,56.8 600.8,55.9C608.7,55 605.5,54.7 612,55.9C618.5,57.1 615.2,55.9 620.3,59.4C625.4,62.9 622.6,62.4 627.3,66.4C632,70.4 629.7,69.8 634.3,71.5C638.9,73.2 638.9,71.5 641.2,71.5"/>
<path d="M584.7,52.4C587.3,53.8 586.6,53.6 592.4,56.6C598.2,59.6 595.2,58.7 602.2,61.5C609.2,64.3 605.9,62.9 613.3,65C620.7,67.1 617.5,65.9 624.5,67.8C631.5,69.7 627.6,69.4 634.3,70.6C641,71.8 641.2,71.1 644.7,71.3"/>
<path d="M610.6,46.2C612.4,48.5 612.4,48.2 616.1,53.1C619.8,58 617.5,55.9 621.7,60.8C625.9,65.7 623.6,64.2 628.7,67.8C633.8,71.4 634.3,70.3 637.1,71.5"/>
<path d="M545,73.4C547.3,73.4 547.8,74.6 552,73.4C556.2,72.2 553.9,73.4 557.6,69.9C561.3,66.4 558.9,67.1 563.1,62.9C567.3,58.7 567.8,59.2 570.1,57.3"/>
<path d="M620,60.1C621.9,62 621.4,62.2 625.6,65.7C629.8,69.2 627.5,68.5 632.6,70.6C637.7,72.7 635.8,72 640.9,72C646,72 644.4,72.5 647.9,70.6C651.4,68.7 649.5,69.4 651.4,66.4C653.3,63.4 650.9,64.1 653.5,61.5C656.1,58.9 654.5,59.6 659.1,58.7C663.7,57.8 660.9,58.2 667.4,58.7C673.9,59.2 671.2,58.9 678.6,60.1C686,61.3 685.9,61.5 689.5,62.2"/>
<path d="M640.2,55.2C640.2,57.8 640,57.8 640.2,62.9C640.4,68 639.3,66.2 640.9,70.6C642.5,75 640.9,73.1 645.1,76.1C649.3,79.1 647.7,78.2 653.5,79.6C659.3,81 659.5,80.1 662.5,80.3"/>
<path d="M620,68.5C622.8,69 622.4,69.4 628.4,69.9C634.4,70.4 632.5,71.1 638.1,69.9C643.7,68.7 640.4,68.3 645.1,66.4C649.8,64.5 647,64.3 652.1,64.3C657.2,64.3 654.9,64.3 660.5,66.4C666.1,68.5 662.8,67.1 668.8,70.6C674.8,74.1 672.5,72.9 678.6,76.8C684.7,80.7 681.9,78.4 687,82.4C692.1,86.4 690,85.4 693.9,88.7C697.8,92 697.2,91 698.8,92.2"/>
<path d="M666,49.6C666.2,52.6 666,52.9 666.7,58.7C667.4,64.5 666.7,61.8 668.1,67.1C669.5,72.4 668.3,70.5 670.9,74.7C673.5,78.9 671.8,77.5 675.8,79.6C679.8,81.7 677.7,81 682.8,81C687.9,81 685.5,80.5 691.1,79.6C696.7,78.7 694.4,78.4 699.5,78.2C704.6,78 702.5,77 706.5,78.9C710.5,80.8 708.9,79.8 711.4,83.8C713.9,87.8 713,86.6 714.1,90.8C715.2,95 714.6,94.5 714.8,96.4"/>
<path d="M481.2,118.9C481.9,122.2 480.9,123.3 483.2,128.7C485.5,134.1 483.7,132.2 488.1,135C492.5,137.8 490.4,137.1 496.5,137.1C502.6,137.1 500.3,135.9 506.3,135C512.3,134.1 509.5,133.6 514.6,134.3C519.7,135 517.9,133.8 521.6,137.1C525.3,140.4 523.7,139 525.8,144.1C527.9,149.2 526.7,146.8 527.9,152.4C529.1,158 528.6,156.4 529.3,160.8C530,165.2 529.8,164.1 530,165.7"/>
<path d="M496.5,123.1C498.4,125 497.9,124.7 502.1,128.7C506.3,132.7 504,131 509.1,135C514.2,139 511.8,137.1 517.4,140.6C523,144.1 520.2,142.6 525.8,145.4C531.4,148.2 529.1,147.3 534.2,148.9C539.3,150.5 536,150.1 541.1,150.3C546.2,150.5 544.8,151.2 549.5,149.6C554.2,148 551.4,147.5 555.1,145.4C558.8,143.3 556.5,143.4 560.7,143.4C564.9,143.4 565.3,144.7 567.6,145.4"/>
<path d="M506.3,153.8C509.1,154.2 508.6,154 514.6,154.9C520.6,155.8 518.3,155.8 524.4,156.6C530.5,157.4 527.7,158 532.8,157.3C537.9,156.6 536.2,157.5 539.7,154.5C543.2,151.5 540.9,151.7 543.2,148.2C545.5,144.7 543.7,145.7 546.7,144.1C549.7,142.5 549.5,142 552.3,143.4C555.1,144.8 553.9,144.7 555.1,148.2C556.3,151.7 555.8,150 556,154C556.2,158 555.7,158.2 555.6,160.3"/>
<path d="M533.5,135C536,135.2 536.2,134.8 541.1,135.7C546,136.6 543.9,135.9 548.1,137.8C552.3,139.7 550,139.2 553.7,141.3C557.4,143.4 555.1,142.7 559.3,144.1C563.5,145.5 562.6,143.5 566.2,145.4C569.8,147.3 566.9,146.1 570.1,149.9C573.3,153.7 572.2,152.4 575.7,156.8C579.2,161.2 577.4,158.9 580.6,163.1C583.8,167.3 583.8,167.3 585.4,169.4"/>
<path d="M545,145C547.3,144.8 547.3,144.8 552,144.3C556.7,143.8 554.8,143.4 559,143.6C563.2,143.8 562.7,144.5 564.5,145"/>
<path d="M569.4,145C572.9,145 572.7,144.7 579.9,145C587.1,145.3 583.6,145.1 591,146C598.4,146.9 595.2,146.3 602.2,147.8C609.2,149.3 606.4,148.3 612,150.6C617.6,152.9 615,151.2 618.9,154.7C622.8,158.2 621,156.6 623.8,161C626.6,165.4 625.8,164.3 627.3,168C628.8,171.7 628,170.8 628.4,172.2"/>
<path d="M570.1,147.8C573.4,148.7 572.9,148.5 579.9,150.6C586.9,152.7 584,152 591,154.1C598,156.2 595.2,154.5 600.8,156.8C606.4,159.1 604.5,158.9 607.8,161C611.1,163.1 609.7,162.4 610.6,163.1"/>
<path d="M577.8,159.6C580.3,159.8 579.6,160.5 585.4,160.3C591.2,160.1 588.2,160.3 595.2,158.9C602.2,157.5 599,158.4 606.4,156.1C613.8,153.8 610.3,154.5 617.5,152C624.7,149.5 624.5,149.7 628,148.5"/>
<path d="M617.5,147.8C619.8,149.2 619.8,149.2 624.5,152C629.2,154.8 626.4,153.6 631.5,156.1C636.6,158.6 634.3,157.9 639.8,159.6C645.3,161.3 643.3,162 647.9,161.3C652.5,160.6 649.8,161 653.5,157.4C657.2,153.8 655.4,154.3 659.1,150.4C662.8,146.5 660,147.9 664.6,145.6C669.2,143.3 667.4,144.4 673,143.5C678.6,142.6 675.8,143.3 681.4,142.8C687,142.3 684.1,141.9 689.7,142.1C695.3,142.3 693,143.7 698.1,143.5C703.2,143.3 700.9,144.2 705.1,141.4C709.3,138.6 707.5,140 710.7,135.1C713.9,130.2 713.4,129.5 714.8,126.7"/>
<path d="M625.2,157.5C627.3,156.1 628,156.4 631.5,153.4C635,150.4 632.7,151.8 635.7,148.5C638.7,145.2 637.4,145.5 640.5,143.6C643.6,141.7 641.2,142.4 645.1,142.8C649,143.2 647.4,143 652.1,144.9C656.8,146.8 654,146.5 659.1,148.4C664.2,150.3 661.4,149.6 667.4,150.7C673.4,151.8 671.1,151.3 677.2,151.6C683.3,151.9 682.8,151.6 685.6,151.6"/>
<path d="M627.7,163C630.2,162.1 630,163 635.3,160.2C640.6,157.4 638.1,159 643.7,154.6C649.3,150.2 646.5,151.6 652.1,147C657.7,142.4 655.4,143.7 660.5,140.7C665.6,137.7 662.3,138.4 667.4,137.9C672.5,137.4 670.2,138.1 675.8,139.3C681.4,140.5 679.1,141.2 684.2,141.4C689.3,141.6 686.9,142.6 691.1,140C695.3,137.4 693.4,139.1 696.7,133.7C700,128.3 699.5,127.2 700.9,123.9"/>
<path d="M620,149C621.4,150.9 621.9,150.4 624.2,154.6C626.5,158.8 625.5,155.8 627,161.6C628.5,167.4 628.1,168.6 628.6,172.1"/>
</g>
<path d="M477.5,107.2C477.5,107.2 478,106.2 482.4,103C486.8,99.8 485.1,100.7 490.7,97.6C496.3,94.5 493.5,96.1 499.1,93.8C504.7,91.5 501.9,92.5 507.5,90.7C513.1,88.9 510.2,89.8 515.8,88.3C521.4,86.8 518.6,87.6 524.2,86.3C529.8,85 527.9,85.6 532.6,84.3C537.3,83 533.7,83.8 538.4,82.5C543.1,81.2 541.1,81.7 546.7,80.4C552.3,79.1 549.5,79.8 555.1,78.6C560.7,77.4 557.9,77.8 563.5,76.9C569.1,76 566.2,76.5 571.8,75.9C577.4,75.3 574.1,75.6 580.2,75C586.3,74.4 583.9,74.4 590,74.2C596.1,74 592.8,74.1 598.4,74.4C604,74.7 601.1,74.5 606.7,75.2C612.3,75.9 609.5,75.5 615.1,76.5C620.7,77.5 617.9,77 623.5,78.1C629.1,79.2 626.2,78.7 631.8,79.8C637.4,80.9 634.2,80.2 640.2,81.3C646.2,82.4 643.2,81.6 649.8,83C656.4,84.4 653.8,83.9 660,85.4C666.2,86.9 662.8,86 668.4,87.5C674,89 671.1,88.2 676.7,89.9C682.3,91.6 679.5,90.6 685.1,92.6C690.7,94.6 687.9,93.5 693.5,95.9C699.1,98.3 696.8,97.3 701.8,99.7C706.8,102.1 704.9,101.3 708.5,103C712.1,104.7 712.6,104.9 712.6,104.9C712.6,104.9 711,106.3 706,109.3C701,112.3 703,111.2 697.7,113.9C692.4,116.6 694.2,115.6 690,117.4C685.8,119.2 689.6,117.6 685.2,119.2C680.8,120.8 682.4,120.3 676.8,122.3C671.2,124.3 674.1,123.3 668.5,125.1C662.9,126.9 665.7,125.9 660.1,127.6C654.5,129.3 657.3,128.6 651.7,130.1C646.1,131.6 649,130.9 643.4,132.2C637.8,133.5 639.4,133.2 635,134.1C630.6,135 634.6,134.1 630.2,134.9C625.8,135.7 627.4,135.5 621.8,136.5C616.2,137.5 619.1,137.2 613.5,138C607.9,138.8 610.7,138.5 605.1,139C599.5,139.5 602.3,139.4 596.7,139.4C591.1,139.4 594,139.6 588.4,139.1C582.8,138.6 586.1,138.9 580,138C573.9,137.1 576.3,137.4 570.2,136.3C564.1,135.2 567.4,135.9 561.8,134.8C556.2,133.7 559.1,134.2 553.5,133.1C547.9,132 550.7,132.7 545.1,131.4C539.5,130.1 542.3,130.8 536.7,129.3C531.1,127.8 534,128.4 528.4,126.8C522.8,125.2 524.2,125.6 520,124.4C515.8,123.2 520,124.6 515.8,123.3C511.6,122 513.1,122.6 507.5,120.6C501.9,118.6 504.7,119.4 499.1,117.2C493.5,115 496.3,116.3 490.7,113.9C485.1,111.5 486.8,112.3 482.4,110.1C478,107.9 477.5,107.2 477.5,107.2Z" fill="#f3a6ae" stroke="#e5636f" stroke-width="1.3" stroke-linejoin="round"/>
<ellipse cx="595" cy="109" rx="24.9" ry="13.3" fill="url(#gn)"/>
<g fill="none" stroke="#bf1a1a" stroke-width="1.9" stroke-linecap="round">
<path d="M493.2,108.9C496.7,108.5 496.5,107.9 503.7,107.8C510.9,107.7 507.5,107.3 514.9,108.5C522.3,109.7 519,109.2 526,111.3C533,113.4 529.7,112.9 535.8,114.7C541.9,116.5 538.2,116.8 544.2,116.8C550.2,116.8 548.3,116.8 553.9,114.7C559.5,112.6 558.6,112 560.9,110.6"/>
<path d="M503,114C506,113.3 505.8,112 512.1,112C518.4,112 515.3,111.5 521.8,114C528.3,116.5 525.1,116.1 531.6,119.6C538.1,123.1 534.9,122.4 541.4,124.5C547.9,126.6 544.6,125.9 551.1,125.9C557.6,125.9 554.8,123.9 560.9,124.5C567,125.1 566.5,126.6 569.3,127.7"/>
<path d="M511.4,120.3C512.6,117.8 511.9,117.6 514.9,112.7C517.9,107.8 516.2,109.2 520.4,105.7C524.6,102.2 521.8,103.4 527.4,102.2C533,101 531.1,102.7 537.2,102.2C543.3,101.7 541,102.9 545.6,100.8C550.2,98.7 547.6,101 551.1,95.9C554.6,90.8 554.4,89 556,85.5"/>
<path d="M519.7,98C521.8,97.1 521.1,95.7 526,95.2C530.9,94.7 528.8,95.2 534.4,96.6C540,98 537.7,98.5 542.8,99.4C547.9,100.3 547.4,99.4 549.7,99.4"/>
<path d="M537.9,84.8C540.5,86.2 540.3,85.2 545.6,88.9C550.9,92.6 549,90.8 553.9,95.9C558.8,101 557.2,98.3 560.2,104.3C563.2,110.3 561.8,107.5 563,114C564.2,120.5 563.6,118.7 563.7,123.8C563.8,128.9 563.5,127.5 563.4,129.4"/>
<path d="M544.2,129.4C544,126.6 543.3,126.6 543.5,121C543.7,115.4 543.3,117.1 544.9,112.7C546.5,108.3 544.8,110 548.3,107.8C551.8,105.6 551.1,106.5 555.3,106C559.5,105.5 559,106.3 560.9,106.4"/>
<path d="M556,97.3C558.6,95.9 558.8,95.7 563.7,93.1C568.6,90.5 566.3,91.1 570.7,89.6C575.1,88.1 573,88.3 577,88.6C581,88.9 580.8,89.9 582.7,90.5"/>
<path d="M560.9,104.3C562.3,102 562.1,102.4 565.1,97.3C568.1,92.2 566.9,93.9 570,88.9C573.1,83.9 572.9,84.6 574.3,82.4"/>
<path d="M613.5,91.7C615.6,91.3 615.4,89.9 619.8,90.4C624.2,90.9 622.1,91 626.7,93.1C631.3,95.2 628.6,95.7 633.7,96.6C638.8,97.5 636.5,95.7 642.1,95.9C647.7,96.1 644.8,96.4 650.4,97.3C656,98.2 653.7,98.5 658.8,98.7C663.9,98.9 661.6,98.1 665.8,98C670,97.9 669.5,98.3 671.4,98.4"/>
<path d="M623.9,79.5C626,80.8 626.5,80 630.2,83.4C633.9,86.8 633.2,85.4 635.1,89.6C637,93.8 636.5,91.5 635.8,95.9C635.1,100.3 634.4,98.2 633,102.9C631.6,107.6 631.1,105.5 631.6,109.9C632.1,114.3 631.8,112.2 634.4,116.1C637,120 635.8,118.7 639.3,121.7C642.8,124.7 643,124 644.9,125.2"/>
<path d="M615.6,133.6C617.5,132.4 617,131 621.2,130.1C625.4,129.2 623,131.3 628.1,130.8C633.2,130.3 630.4,131 636.5,128.7C642.6,126.4 639.8,127.1 646.3,123.8C652.8,120.5 649.5,121.2 656,118.9C662.5,116.6 659.7,117.7 665.8,116.8C671.9,115.9 669.6,115.6 674.2,116.1C678.8,116.6 677.7,117.5 679.5,118.2"/>
<path d="M648.4,88.2C650.9,89.6 650.9,89.1 656,92.4C661.1,95.7 659.3,94.3 663.7,98C668.1,101.7 666.5,99.6 669.3,103.6C672.1,107.6 671.4,105.7 672.1,109.9C672.8,114.1 672,112.9 671.4,116.1C670.8,119.3 670.6,118.4 670.2,119.6"/>
<path d="M632.3,132.2C633.7,129.4 633.2,129.8 636.5,123.8C639.8,117.8 638.1,120.4 642.1,114.1C646.1,107.8 644.2,110.1 648.4,105C652.6,99.9 649.7,102 654.6,98.7C659.5,95.4 660.2,96.4 663,95.2"/>
<path d="M633,113.4C635.6,114.1 634.9,115 640.7,115.4C646.5,115.8 643.9,115.8 650.4,114.7C656.9,113.6 653.7,113.8 660.2,112C666.7,110.2 663.5,110.7 670,109.2C676.5,107.7 673.2,108 679.7,107.4C686.2,106.8 684.3,106.8 689.5,107.4C694.7,108 693.4,108.6 695.4,109.2"/>
</g>
<line x1="581.5" y1="161.7" x2="581.5" y2="210.8" stroke="#bdbdbd" stroke-width="2.1"/>
<line x1="666.7" y1="126.2" x2="666.7" y2="169.7" stroke="#bf1515" stroke-width="2.8"/>
<line x1="169.8" y1="315.7" x2="169.8" y2="335.5" stroke="#111" stroke-width="1.8"/>
<g fill="#ef3d4e" stroke="#b0121c" stroke-width="1.2" stroke-linejoin="round">
<polygon points="168.2,155.9 170.8,158.6 169.1,161.8 165.5,161.2 165,157.5"/>
<polygon points="146.4,165.9 149.3,168 148.2,171.5 144.6,171.5 143.5,168"/>
<polygon points="133.3,183.5 136.5,185.1 136,188.8 132.4,189.4 130.7,186.2"/>
<polygon points="101,192.5 103,195.5 100.8,198.4 97.3,197.1 97.5,193.5"/>
<polygon points="147.4,193.7 149.7,196.5 147.7,199.6 144.2,198.7 144,195"/>
<polygon points="140.4,233.3 145.3,235.6 144.5,241 139.2,241.9 136.6,237.2"/>
<polygon points="169.3,290.5 175.2,293.3 174.3,299.7 167.9,300.8 164.9,295.1"/>
<polygon points="219.6,327.9 224.4,330.1 223.8,335.3 218.7,336.4 216,331.8"/>
<polygon points="283.4,335.8 287.2,337.6 286.6,341.8 282.4,342.5 280.4,338.8"/>
<polygon points="330,371.4 333.5,372.8 333.3,376.5 329.7,377.5 327.6,374.3"/>
</g>
<path d="M136.8,203.3C137,205.9 137.3,206.8 137.3,211C137.3,215.2 137,214.2 136.8,215.8" fill="none" stroke="#000" stroke-width="2.5" stroke-linecap="round"/><polygon points="136.4,219.6 134,213.8 140,214.4" fill="#000"/>
<path d="M148.1,253.3C148.9,256.5 148.2,257.4 150.5,263C152.8,268.6 153.1,267.2 155,270C156.9,272.8 155.8,270.9 156.2,271.3" fill="none" stroke="#000" stroke-width="2.5" stroke-linecap="round"/><polygon points="158.7,274.2 152.8,272.1 157.3,268.1" fill="#000"/>
<path d="M181.6,310.2C183.1,312.1 182.2,312.6 186,316C189.8,319.4 189.4,318.5 193,320.5C196.6,322.5 195.5,321.5 196.8,321.9" fill="none" stroke="#000" stroke-width="2.5" stroke-linecap="round"/><polygon points="200.4,323.3 194.2,324.2 196.3,318.5" fill="#000"/>
<path d="M243.6,339.1C246.4,339.7 246.2,340.6 252,341C257.8,341.4 256.7,340.8 261,340.3C265.3,339.8 263.6,339.7 264.9,339.4" fill="none" stroke="#000" stroke-width="2.5" stroke-linecap="round"/><polygon points="268.7,338.6 264,342.7 262.7,336.9" fill="#000"/>
<path d="M301.5,345.4C303.7,347.3 303.8,346.5 308,351C312.2,355.5 310.8,354.7 314,359C317.2,363.3 316.4,362.3 317.6,364" fill="none" stroke="#000" stroke-width="2.5" stroke-linecap="round"/><polygon points="319.8,367.1 314.2,364.4 319,360.9" fill="#000"/>
<path d="M346.7,376.4C349.1,375.6 349.2,376 354,374C358.8,372 357.9,372.1 361,370.5C364.1,368.9 362.6,369.7 363.4,369.3" fill="none" stroke="#000" stroke-width="2.5" stroke-linecap="round"/><polygon points="366.8,367.6 363.2,372.7 360.5,367.4" fill="#000"/>
<path d="M411.1,352C412,350.8 412.3,350.8 413.8,348.3C415.3,345.8 414.9,346 415.5,344.5C416.1,343 415.6,344 415.6,343.8" fill="none" stroke="#000" stroke-width="2.5" stroke-linecap="round"/><polygon points="416.3,340 418.3,345.9 412.4,344.9" fill="#000"/>
<path d="M416.5,321.5C415.9,320.4 416.1,320.1 414.8,318.2C413.5,316.3 413.2,316.5 412.7,315.8C412.2,315.1 413,316.1 413.2,316.2" fill="none" stroke="#000" stroke-width="2.5" stroke-linecap="round"/><polygon points="410.3,313.7 416.4,315.1 412.5,319.6" fill="#000"/>
<path d="M407.9,276.8C408.7,272.2 408.2,272.4 410.2,263.1C412.2,253.8 410.5,259 413.8,248.8C417.1,238.6 415.3,243.4 420.1,232.6C424.9,221.8 422.1,226.5 428.2,216.5C434.3,206.5 430.8,212.1 438.5,202.5C446.2,192.9 442.9,196.8 451.4,187.7C459.9,178.6 455.5,182.4 463.9,175.1C472.3,167.8 468.1,172 476.5,165.7C484.9,159.4 483.6,160.4 489,156.3C494.4,152.2 491.4,154.4 492.6,153.4" fill="none" stroke="#000" stroke-width="2.7" stroke-linecap="butt"/>
<polygon points="498,148.3 489.2,150.6 493.9,156.4" fill="#000"/>
<path d="M366.1,297.2 L369,303.5 L367.7,303 L367.7,313.7 L364.6,313.7 L364.6,303 L363.2,303.5Z" fill="#f91a14"/>
<path d="M383.6,321 L386.5,327.3 L385.2,326.8 L385.2,337.4 L382.1,337.4 L382.1,326.8 L380.7,327.3Z" fill="#f91a14"/>
<path d="M370.2,351.2 L373.1,357.5 L371.8,357 L371.8,367.6 L368.6,367.6 L368.6,357 L367.3,357.5Z" fill="#f91a14"/>
<g font-family="'Liberation Serif', 'Times New Roman', serif" fill="#111" opacity="0.999" style="text-rendering:geometricPrecision">
<text x="57" y="19.5" font-size="20" font-weight="700" text-anchor="start" textLength="132" lengthAdjust="spacing">Senescent Cells</text>
<text x="524" y="22.9" font-size="20" font-weight="700" text-anchor="start" textLength="131.2" lengthAdjust="spacing">Myofibroblasts</text>
<text x="449.7" y="221" font-size="20" font-weight="700" text-anchor="start" textLength="52.2" lengthAdjust="spacingAndGlyphs">MMT</text>
<text x="124.7" y="354.8" font-size="18.6" font-weight="700" text-anchor="start" textLength="62.6" lengthAdjust="spacingAndGlyphs">IFITM3</text>
<text x="314.7" y="494.4" font-size="19.2" font-weight="700" text-anchor="start" textLength="109" lengthAdjust="spacing">Macrophage</text>
<text x="552.9" y="232.3" font-size="15.8" font-weight="700" text-anchor="start">Collagens</text>
<text x="652" y="195.8" font-size="15.6" font-weight="700" text-anchor="start">α-SMA</text>
<text x="370.4" y="312.2" font-size="13.6" font-weight="400" text-anchor="start" stroke="#111" stroke-width="0.45">SMAD</text>
<text x="389.4" y="336.4" font-size="14.2" font-weight="400" text-anchor="start" stroke="#111" stroke-width="0.45">TGF-β</text>
<text x="375.8" y="364.5" font-size="14" font-weight="400" text-anchor="start" stroke="#111" stroke-width="0.45">ITGB3</text>
</g>
</svg>
</body></html>
